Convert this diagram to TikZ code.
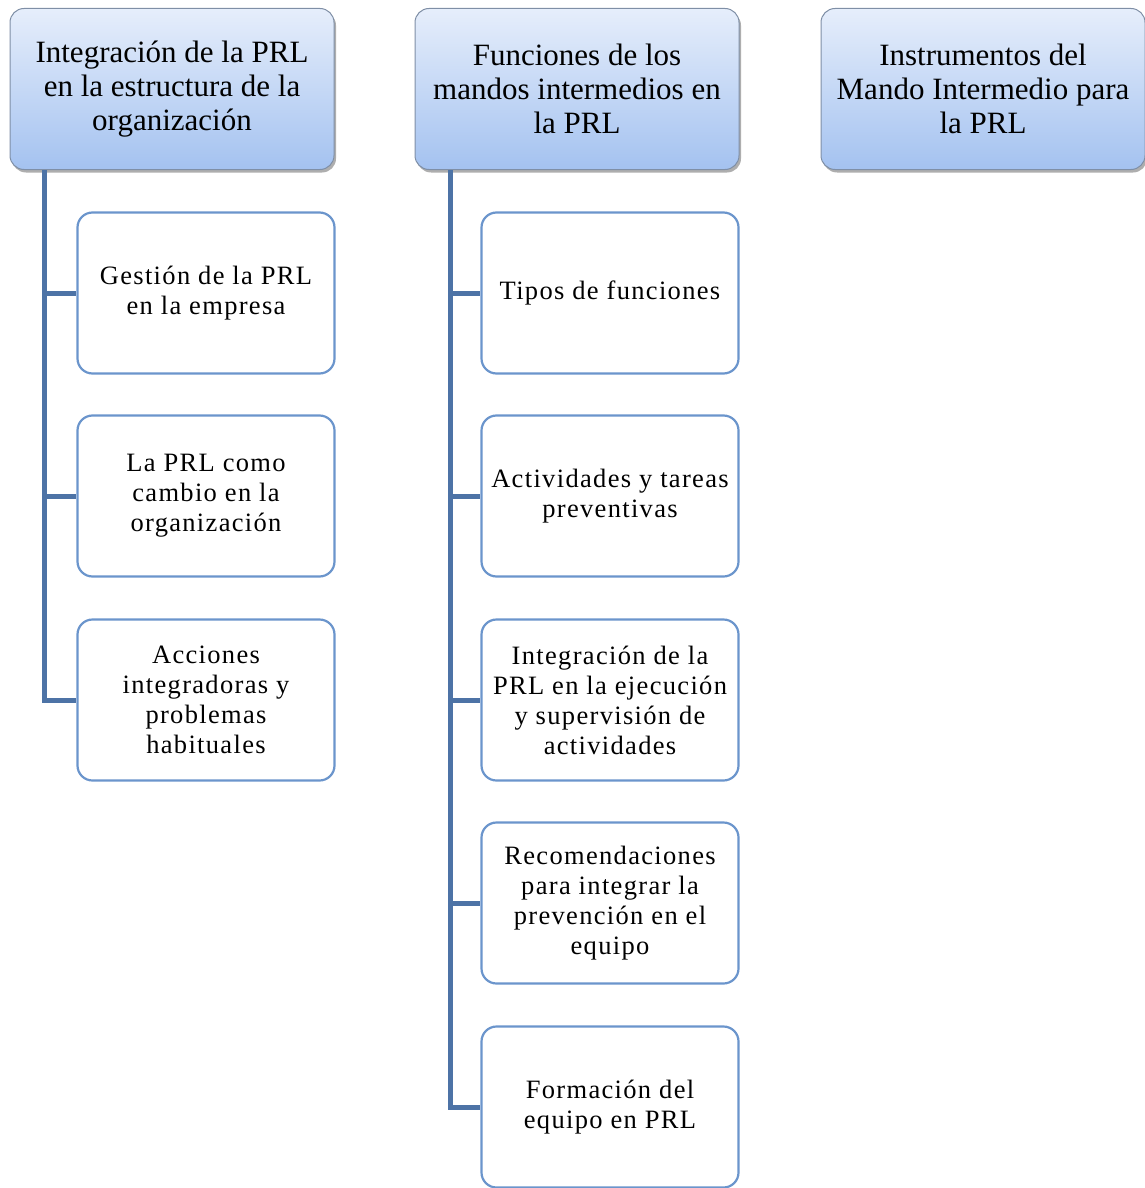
\documentclass[tikz,border=0pt]{standalone}
\usepackage{fontspec}
\setmainfont{Liberation Serif}
\newfontfamily\childfont[LetterSpace=5]{Liberation Serif}
\usetikzlibrary{shadows}
\definecolor{hdrTop}{HTML}{E6EEFB}
\definecolor{hdrBot}{HTML}{A4C2F0}
\definecolor{hdrLine}{HTML}{7F8FA6}
\definecolor{kidLine}{HTML}{6B95CC}
\definecolor{linkBlue}{HTML}{4D73A6}
\tikzset{
  header/.style={draw=hdrLine, line width=1pt, rounded corners=14pt,
    top color=hdrTop, bottom color=hdrBot,
    minimum width=324pt, minimum height=161pt, align=center,
    font=\fontsize{31}{34}\selectfont, inner sep=0pt,
    drop shadow={shadow xshift=2pt, shadow yshift=-3pt, opacity=0.45, fill=black!70}},
  child/.style={draw=kidLine, line width=2.2pt, rounded corners=15pt, fill=white,
    minimum width=257pt, minimum height=161pt, align=center,
    font=\childfont\fontsize{26.5}{30}\selectfont, inner sep=0pt},
  link/.style={draw=linkBlue, line width=5pt}
}
\begin{document}
\begin{tikzpicture}[x=1pt, y=-1pt]
\useasboundingbox (0,0) rectangle (1145,1188);
% column headers
\node[header] (h1) at (172,89) {Integración de la PRL\\en la estructura de la\\organización};
\node[header] (h2) at (577,89) {Funciones de los\\mandos intermedios en\\la PRL};
\node[header] (h3) at (983,89) {Instrumentos del\\Mando Intermedio para\\la PRL};
% first column
\node[child] (a1) at (206,293) {Gestión de la PRL\\en la empresa};
\node[child] (a2) at (206,496) {La PRL  como\\cambio en la\\organización};
\node[child] (a3) at (206,700) {Acciones\\integradoras y\\problemas\\habituales};
% second column
\node[child] (b1) at (610,293) {Tipos de funciones};
\node[child] (b2) at (610,496) {Actividades y tareas\\preventivas};
\node[child] (b3) at (610,700) {Integración de la\\PRL  en la ejecución\\y supervisión de\\actividades};
\node[child] (b4) at (610,903) {Recomendaciones\\para integrar la\\prevención en el\\equipo};
\node[child] (b5) at (610,1107) {Formación del\\equipo en PRL};
% tree connectors
\coordinate (ta) at (44,0);
\coordinate (tb) at (450,0);
\draw[link] (ta |- h1.south) -- (ta |- a3.west) -- (a3.west);
\draw[link] (ta |- a1.west) -- (a1.west);
\draw[link] (ta |- a2.west) -- (a2.west);
\draw[link] (tb |- h2.south) -- (tb |- b5.west) -- (b5.west);
\draw[link] (tb |- b1.west) -- (b1.west);
\draw[link] (tb |- b2.west) -- (b2.west);
\draw[link] (tb |- b3.west) -- (b3.west);
\draw[link] (tb |- b4.west) -- (b4.west);
\end{tikzpicture}
\end{document}
